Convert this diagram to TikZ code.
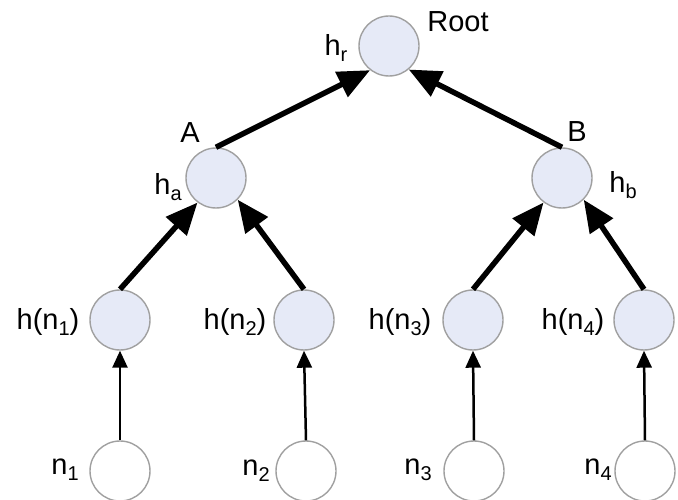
\documentclass[tikz,border=0pt]{standalone}
\usepackage{fontspec}
\setmainfont{Liberation Sans}
\usetikzlibrary{arrows.meta}
\definecolor{nodefill}{HTML}{E6EAF7}
\definecolor{nodeline}{HTML}{A0A0A0}
\newcommand\mysub[1]{\raisebox{-0.2em}{\fontsize{20}{20}\selectfont #1}}
\tikzset{
  hnode/.style={circle,draw=nodeline,line width=1.4pt,fill=nodefill,minimum size=60pt,inner sep=0pt},
  leafnode/.style={circle,draw=nodeline,line width=1.4pt,fill=white,minimum size=60pt,inner sep=0pt},
  lbl/.style={inner sep=0pt,font=\fontsize{29}{32}\selectfont},
  bigarrow/.style={line width=5.5pt,-{Triangle[length=32pt,width=27pt]}},
  smallarrow/.style={line width=2.5pt,-{Triangle[length=17pt,width=15pt]}}
}
\begin{document}
\begin{tikzpicture}[x=1pt,y=-1pt]
\useasboundingbox (0,0) rectangle (678,500);
\clip (0,0) rectangle (678,500);
\node[hnode] (root) at (389,46) {};
\node[hnode] (A) at (216,178) {};
\node[hnode] (B) at (562,178) {};
\node[hnode] (h1) at (120,320) {};
\node[hnode] (h2) at (304,320) {};
\node[hnode] (h3) at (473,320) {};
\node[hnode] (h4) at (644,320) {};
\node[leafnode] (n1) at (120,471) {};
\node[leafnode] (n2) at (306,471) {};
\node[leafnode] (n3) at (474,471) {};
\node[leafnode] (n4) at (645,471) {};
% labels
\node[lbl] (lroot) at (458,22) {Root};
\node[lbl] (lhr) at (336,48) {h\mysub{r}};
\node[lbl] (lA) at (190,133) {A};
\node[lbl] (lha) at (168,187) {h\mysub{a}};
\node[lbl] (lB) at (577,132) {B};
\node[lbl] (lhb) at (623,185) {h\mysub{b}};
\node[lbl] (lh1) at (48,322) {h(n\mysub{1})};
\node[lbl] (lh2) at (235,322) {h(n\mysub{2})};
\node[lbl] (lh3) at (400,322) {h(n\mysub{3})};
\node[lbl] (lh4) at (573,322) {h(n\mysub{4})};
\node[lbl] (ln1) at (65,470) {n\mysub{1}};
\node[lbl] (ln2) at (256,471) {n\mysub{2}};
\node[lbl] (ln3) at (418,470) {n\mysub{3}};
\node[lbl] (ln4) at (598,470) {n\mysub{4}};
% arrows
\draw[bigarrow] (A.north) -- (root.232);
\draw[bigarrow] (B.north) -- (root.-50);
\draw[bigarrow] (h1.north) -- (A.233);
\draw[bigarrow] (h2.north) -- (A.-45);
\draw[bigarrow] (h3.north) -- (B.233);
\draw[bigarrow] (h4.north) -- (B.-45);
\draw[smallarrow] (n1.north) -- (h1.south);
\draw[smallarrow] (n2.north) -- (h2.south);
\draw[smallarrow] (n3.north) -- (h3.south);
\draw[smallarrow] (n4.north) -- (h4.south);
\end{tikzpicture}
\end{document}
